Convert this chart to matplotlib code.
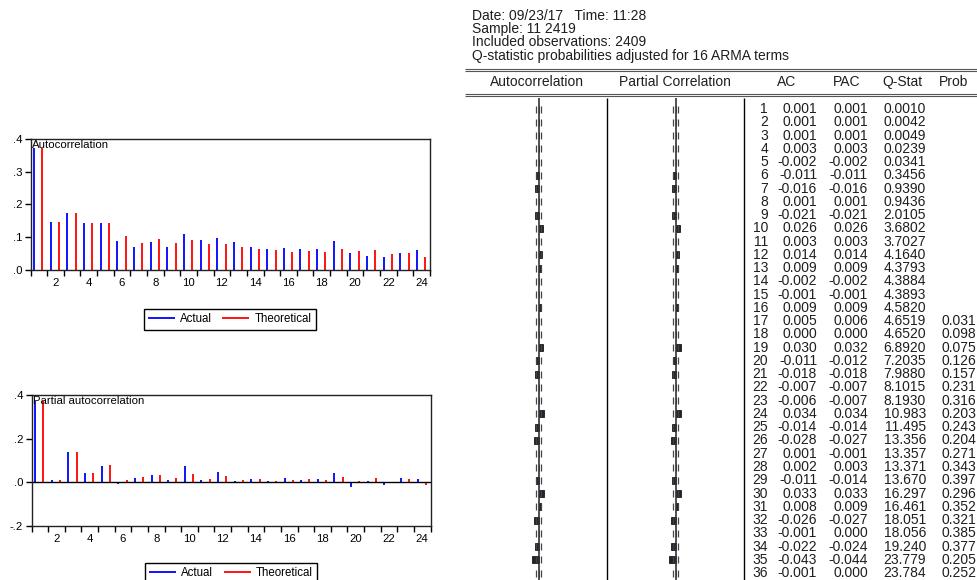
import matplotlib.pyplot as plt
import numpy as np

plt.rcParams['font.family'] = ['Liberation Sans', 'DejaVu Sans']

# ---- chart data (lags 1..24) ----
lags = np.arange(1, 25)
acf_actual = [0.373, 0.148, 0.175, 0.143, 0.142, 0.090, 0.070, 0.087, 0.070, 0.109,
              0.092, 0.097, 0.086, 0.071, 0.064, 0.068, 0.064, 0.064, 0.088, 0.051,
              0.044, 0.040, 0.052, 0.061]
acf_theory = [0.372, 0.148, 0.175, 0.143, 0.145, 0.105, 0.082, 0.095, 0.082, 0.092,
              0.079, 0.079, 0.070, 0.065, 0.060, 0.055, 0.058, 0.056, 0.064, 0.058,
              0.062, 0.050, 0.052, 0.040]
pacf_actual = [0.371, 0.009, 0.137, 0.041, 0.076, -0.009, 0.018, 0.035, 0.009, 0.073,
               0.012, 0.049, 0.008, 0.017, 0.005, 0.021, 0.012, 0.017, 0.044, -0.021,
               0.008, -0.012, 0.021, 0.017]
pacf_theory = [0.371, 0.009, 0.137, 0.041, 0.081, 0.009, 0.023, 0.034, 0.018, 0.040,
               0.014, 0.029, 0.009, 0.017, 0.008, 0.011, 0.015, 0.012, 0.024, 0.008,
               0.021, -0.001, 0.017, -0.011]
acf_yticks = [0.0, 0.1, 0.2, 0.3, 0.4]
acf_ylabels = ['.0', '.1', '.2', '.3', '.4']
pacf_yticks = [-0.2, 0.0, 0.2, 0.4]
pacf_ylabels = ['-.2', '.0', '.2', '.4']
legend_labels = ['Actual', 'Theoretical']

# ---- correlogram table (lags 1..36) ----
table_lags = np.arange(1, 37)
ac = [0.001, 0.001, 0.001, 0.003, -0.002, -0.011, -0.016, 0.001, -0.021, 0.026,
      0.003, 0.014, 0.009, -0.002, -0.001, 0.009, 0.005, 0.000, 0.030, -0.011,
      -0.018, -0.007, -0.006, 0.034, -0.014, -0.028, 0.001, 0.002, -0.011, 0.033,
      0.008, -0.026, -0.001, -0.022, -0.043, -0.001]
pac = [0.001, 0.001, 0.001, 0.003, -0.002, -0.011, -0.016, 0.001, -0.021, 0.026,
       0.003, 0.014, 0.009, -0.002, -0.001, 0.009, 0.006, 0.000, 0.032, -0.012,
       -0.018, -0.007, -0.007, 0.034, -0.014, -0.027, -0.001, 0.003, -0.014, 0.033,
       0.009, -0.027, 0.000, -0.024, -0.044, 0.000]
qstat = [0.0010, 0.0042, 0.0049, 0.0239, 0.0341, 0.3456, 0.9390, 0.9436, 2.0105, 3.6802,
         3.7027, 4.1640, 4.3793, 4.3884, 4.3893, 4.5820, 4.6519, 4.6520, 6.8920, 7.2035,
         7.9880, 8.1015, 8.1930, 10.983, 11.495, 13.356, 13.357, 13.371, 13.670, 16.297,
         16.461, 18.051, 18.056, 19.240, 23.779, 23.784]
prob = [np.nan] * 16 + [0.031, 0.098, 0.075, 0.126, 0.157, 0.231, 0.316, 0.203, 0.243,
                        0.204, 0.271, 0.343, 0.397, 0.296, 0.352, 0.321, 0.385, 0.377,
                        0.205, 0.252]
header_lines = ['Date: 09/23/17   Time: 11:28',
                'Sample: 11 2419',
                'Included observations: 2409',
                'Q-statistic probabilities adjusted for 16 ARMA terms']
col_names = ['Autocorrelation', 'Partial Correlation', 'AC', 'PAC', 'Q-Stat', 'Prob']

W, H = 977, 580
fig = plt.figure(figsize=(W / 100, H / 100), dpi=100)
txt = '#1e1e1e'


def px_axes(x0, y0, x1, y1):
    return fig.add_axes([x0 / W, 1 - y1 / H, (x1 - x0) / W, (y1 - y0) / H])


# table drawn in pixel coordinates
tab = fig.add_axes([0, 0, 1, 1])
tab.set_xlim(0, W)
tab.set_ylim(H, 0)
tab.axis('off')

tab.hlines([69, 71, 94, 96], 465, W, color='#555555', lw=0.8)
for i, line in enumerate(header_lines):
    tab.text(472, 16 + i * 13.2, line, fontsize=10, va='center', ha='left', color=txt)
for x, name in zip([537, 675, 787, 847, 902, 954], col_names):
    tab.text(x, 82, name, fontsize=10, va='center', ha='center', color=txt)

row_y = 109 + (table_lags - 1) * 13.26
tab.vlines([607, 744], 98, H, color='black', lw=1)
for xc, vals in [(538.5, ac), (675.5, pac)]:
    vals = np.array(vals)
    tab.vlines(xc, 98, H, color='#333333', lw=1.2)
    tab.vlines(np.full(36, xc - 2.8), row_y - 3.5, row_y + 3.5, color='#444444', lw=0.9)
    tab.vlines(np.full(36, xc + 2.8), row_y - 3.5, row_y + 3.5, color='#444444', lw=0.9)
    # small bars: only lags with |value| >= 0.008 show a visible mark
    widths = np.where(np.abs(vals) >= 0.008, vals * 110 + np.sign(vals) * 1.5, 0)
    tab.barh(row_y, widths, height=7, left=xc,
             color='#222233', edgecolor='black', lw=0.5)

for i in range(36):
    y = row_y[i]
    tab.text(768, y, str(table_lags[i]), ha='right', va='center', fontsize=10, color=txt)
    tab.text(817, y, f'{ac[i]:.3f}', ha='right', va='center', fontsize=10, color=txt)
    tab.text(868, y, f'{pac[i]:.3f}', ha='right', va='center', fontsize=10, color=txt)
    q = qstat[i]
    tab.text(926, y, f'{q:.4f}' if q < 10 else f'{q:.3f}', ha='right', va='center',
             fontsize=10, color=txt)
    if not np.isnan(prob[i]):
        tab.text(976, y, f'{prob[i]:.3f}', ha='right', va='center', fontsize=10, color=txt)


def corr_panel(ax, actual, theory, yticks, ylabels, ylim, title):
    b = ax.vlines(lags - 0.28, 0, actual, color='#0000ff', lw=1.3)
    r = ax.vlines(lags + 0.22, 0, theory, color='#ff0000', lw=1.3)
    ax.set_xlim(0.5, 24.5)
    ax.set_ylim(*ylim)
    ax.set_xticks(lags[1::2])
    ax.set_xticks(np.arange(0.5, 25, 1), minor=True)
    ax.tick_params(axis='x', which='major', length=0, pad=6, labelsize=8.2)
    ax.tick_params(axis='x', which='minor', length=4, width=1, direction='out')
    ax.set_yticks(yticks)
    ax.set_yticklabels(ylabels)
    ax.tick_params(axis='y', length=4, width=1, pad=2, labelsize=8.2)
    ax.text(0.004, 0.99, title, transform=ax.transAxes, va='top', ha='left', fontsize=8.2)
    for s in ax.spines.values():
        s.set_linewidth(1)
        s.set_color('#222222')
    return b, r


def add_legend(handles, cx, cy):
    leg = fig.legend(handles, legend_labels, loc='center', bbox_to_anchor=(cx / W, 1 - cy / H),
                     ncol=2, frameon=True, fancybox=False, edgecolor='black', framealpha=1,
                     handlelength=2.35, handletextpad=0.45, columnspacing=0.9,
                     borderpad=0.35, fontsize=8.3)
    leg.get_frame().set_linewidth(1)


ax1 = px_axes(30.5, 139, 430, 270)
h1 = corr_panel(ax1, acf_actual, acf_theory, acf_yticks, acf_ylabels, (0, 0.4), 'Autocorrelation')
add_legend(h1, 229.5, 319.5)

ax2 = px_axes(31.5, 395, 430.5, 526)
h2 = corr_panel(ax2, pacf_actual, pacf_theory, pacf_yticks, pacf_ylabels, (-0.2, 0.4),
                'Partial autocorrelation')
ax2.axhline(0, color='black', lw=1)
add_legend(h2, 231, 573)

fig.savefig('out.png', dpi=100)
